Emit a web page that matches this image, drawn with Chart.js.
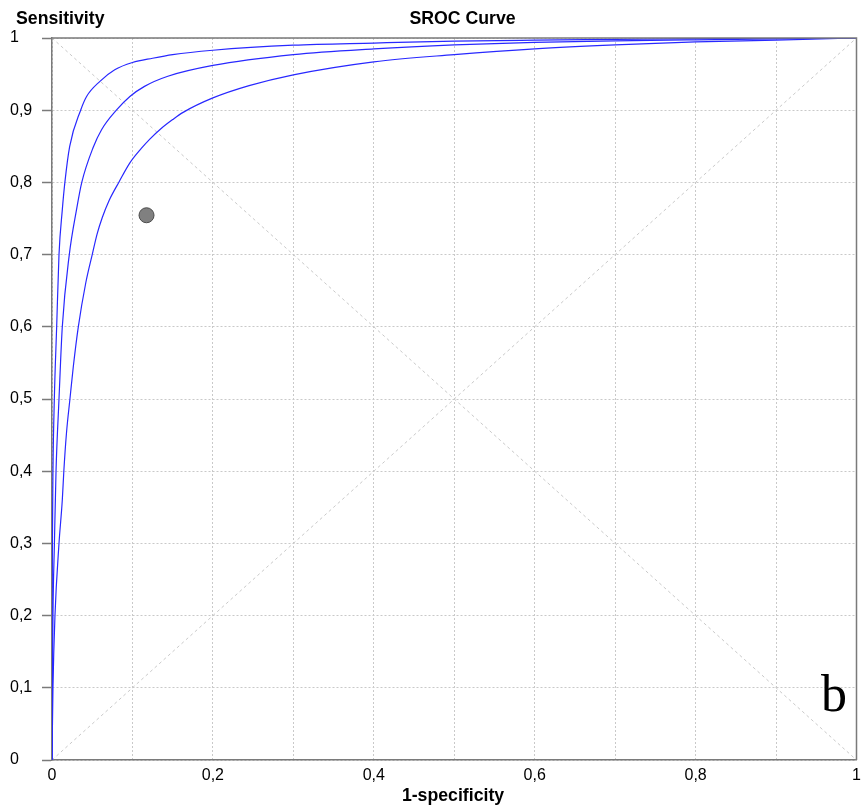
<!DOCTYPE html>
<html>
<head>
<meta charset="utf-8">
<script src="https://cdn.jsdelivr.net/npm/chart.js@4"></script>
<style>
  html, body { margin: 0; padding: 0; background: #ffffff; }
  #wrap { width: 865px; height: 806px; position: relative; }
</style>
</head>
<body>
<div id="wrap"><canvas id="c" width="865" height="806"></canvas></div>
<script>
// ---- data ----
const chartTitle = "SROC Curve";
const yAxisTitle = "Sensitivity";
const xAxisTitle = "1-specificity";
const panelLetter = "b";

const tickValues = [0, 0.1, 0.2, 0.3, 0.4, 0.5, 0.6, 0.7, 0.8, 0.9, 1];

// upper confidence curve
const upperFPR  = [0, 0.0002, 0.0005, 0.0012, 0.0029, 0.0058, 0.0087, 0.0128, 0.016, 0.022, 0.0356, 0.043, 0.0596, 0.078, 0.1, 0.125, 0.15, 0.2, 0.3, 0.4, 0.5, 0.6, 0.7, 0.8, 0.9, 1];
const upperSens = [0, 0.2, 0.3, 0.4, 0.5, 0.6, 0.7, 0.762, 0.8, 0.85, 0.9, 0.919, 0.94, 0.956, 0.966, 0.972, 0.977, 0.983, 0.99, 0.993, 0.9956, 0.997, 0.998, 0.999, 0.9995, 1];

// central SROC curve
const midFPR  = [0, 0.0005, 0.0012, 0.003, 0.005, 0.0087, 0.0128, 0.0215, 0.0306, 0.037, 0.051, 0.0616, 0.08, 0.0968, 0.115, 0.144, 0.2, 0.3, 0.4, 0.5, 0.6, 0.7, 0.8, 0.9, 1];
const midSens = [0, 0.1, 0.2, 0.3, 0.4, 0.5, 0.6, 0.7, 0.763, 0.8, 0.848, 0.873, 0.9, 0.919, 0.933, 0.947, 0.962, 0.977, 0.985, 0.9905, 0.994, 0.996, 0.9975, 0.9988, 1];

// lower confidence curve
const lowerFPR  = [0, 0.0012, 0.0037, 0.0087, 0.0128, 0.0147, 0.018, 0.0223, 0.0265, 0.0327, 0.042, 0.05, 0.0562, 0.0624, 0.071, 0.0835, 0.0968, 0.111, 0.1216, 0.135, 0.15, 0.163, 0.2, 0.245, 0.3, 0.4, 0.5, 0.6, 0.7, 0.8, 0.9, 1];
const lowerSens = [0, 0.1, 0.2, 0.3, 0.36, 0.4, 0.453, 0.5, 0.545, 0.6, 0.661, 0.7, 0.729, 0.751, 0.775, 0.801, 0.827, 0.847, 0.86, 0.874, 0.887, 0.897, 0.917, 0.934, 0.949, 0.967, 0.977, 0.985, 0.9905, 0.9945, 0.997, 1];

// summary point
const pointFPR  = [0.1175];
const pointSens = [0.7545];

// reference diagonals
const diagUpFPR    = [0, 1];
const diagUpSens   = [0, 1];
const diagDownFPR  = [0, 1];
const diagDownSens = [1, 0];

// ---- helpers ----
function pts(xs, ys) { return xs.map((x, i) => ({ x: x, y: ys[i] })); }
function fmt(v) { return String(Math.round(v * 10) / 10).replace('.', ','); }

const FONT = "'Liberation Sans', Arial, sans-serif";
const GRID = '#c9c9c9';
const AXIS = '#7a7a7a';
const BLUE = 'rgb(40,40,255)';

const overlay = {
  id: 'overlay',
  afterDatasetsDraw(chart) {
    const { ctx, chartArea: a } = chart;
    ctx.save();
    // frame top & right
    ctx.strokeStyle = AXIS;
    ctx.lineWidth = 1.5;
    ctx.beginPath();
    ctx.moveTo(a.left, a.top);
    ctx.lineTo(a.right, a.top);
    ctx.lineTo(a.right, a.bottom);
    ctx.stroke();
    // texts
    ctx.fillStyle = '#000';
    ctx.textBaseline = 'alphabetic';
    ctx.font = "bold 17.7px " + FONT;
    ctx.textAlign = 'left';
    ctx.fillText(yAxisTitle, 16, 24);
    ctx.textAlign = 'center';
    ctx.fillText(chartTitle, 462.5, 24);
    ctx.fillText(xAxisTitle, 453, 801);
    ctx.font = "52px 'Liberation Serif', 'Times New Roman', serif";
    ctx.textAlign = 'center';
    ctx.fillText(panelLetter, 834, 711);
    ctx.restore();
  }
};

new Chart(document.getElementById('c'), {
  type: 'scatter',
  data: {
    datasets: [
      { data: pts(pointFPR, pointSens), pointRadius: 7.5, pointHoverRadius: 7.5,
        backgroundColor: '#808080', borderColor: '#4a4a4a', borderWidth: 1, order: 0 },
      { data: pts(upperFPR, upperSens), showLine: true, pointRadius: 0, borderColor: BLUE,
        borderWidth: 1.2, cubicInterpolationMode: 'monotone', order: 1 },
      { data: pts(midFPR, midSens), showLine: true, pointRadius: 0, borderColor: BLUE,
        borderWidth: 1.2, cubicInterpolationMode: 'monotone', order: 1 },
      { data: pts(lowerFPR, lowerSens), showLine: true, pointRadius: 0, borderColor: BLUE,
        borderWidth: 1.2, cubicInterpolationMode: 'monotone', order: 1 },
      { data: pts(diagUpFPR, diagUpSens), showLine: true, pointRadius: 0, borderColor: GRID,
        borderWidth: 1, borderDash: [3, 3], order: 2 },
      { data: pts(diagDownFPR, diagDownSens), showLine: true, pointRadius: 0, borderColor: GRID,
        borderWidth: 1, borderDash: [3, 3], order: 2 }
    ]
  },
  options: {
    responsive: false,
    animation: false,
    events: [],
    layout: { padding: { left: 10, top: 38, right: 3, bottom: 0 } },
    plugins: { legend: { display: false }, tooltip: { enabled: false }, title: { display: false } },
    scales: {
      x: {
        type: 'linear', min: 0, max: 1,
        afterBuildTicks: (s) => { s.ticks = tickValues.map(v => ({ value: v })); },
        afterFit: (s) => { s.height = 46; s.paddingRight = 0; s.paddingLeft = 0; },
        grid: { color: GRID, lineWidth: 1, drawTicks: false },
        border: { display: true, color: AXIS, width: 1.5, dash: [2, 2] },
        ticks: {
          padding: 6, color: '#000', font: { family: FONT, size: 16 },
          maxRotation: 0, autoSkip: false,
          callback: (v) => (Math.round(v * 10) % 2 === 0 ? fmt(v) : '')
        }
      },
      y: {
        type: 'linear', min: 0, max: 1,
        afterBuildTicks: (s) => { s.ticks = tickValues.map(v => ({ value: v })); },
        afterFit: (s) => { s.width = 42; s.paddingTop = 0; s.paddingBottom = 0; },
        grid: { color: GRID, lineWidth: 1, drawTicks: true, tickLength: 10, tickColor: AXIS, tickWidth: 1.5 },
        border: { display: true, color: AXIS, width: 1.5, dash: [2, 2] },
        ticks: {
          crossAlign: 'far', padding: 4, color: '#000', font: { family: FONT, size: 16 },
          autoSkip: false, callback: (v) => fmt(v)
        }
      }
    }
  },
  plugins: [overlay]
});
</script>
</body>
</html>
